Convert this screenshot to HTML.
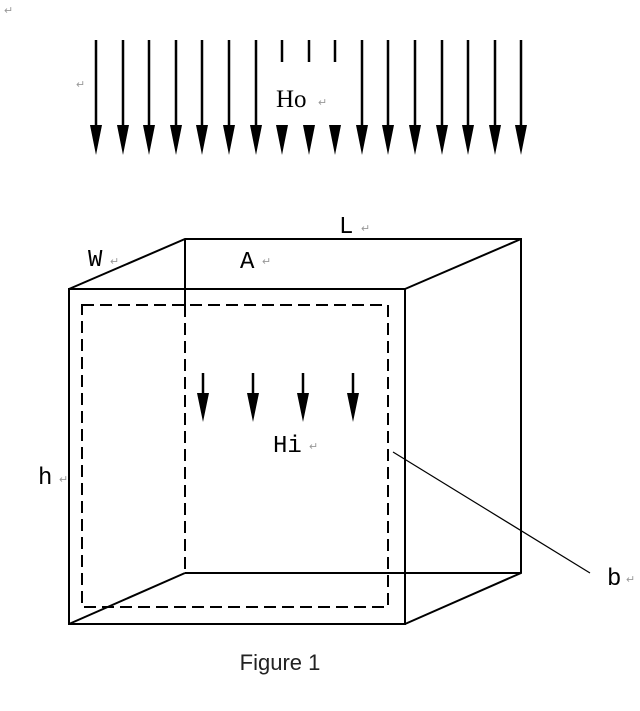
<!DOCTYPE html>
<html><head><style>body{margin:0;background:#fff;width:640px;height:706px;overflow:hidden}</style></head><body>
<svg width="640" height="706" xmlns="http://www.w3.org/2000/svg">
<defs><marker id="a" viewBox="0 0 12 30" refX="6" refY="30" markerWidth="12" markerHeight="30" markerUnits="userSpaceOnUse" orient="auto-start-reverse"></marker></defs>
<g font-family="Liberation Serif, serif" fill="#999" font-size="11">
<text x="4" y="14">↵</text><text x="76" y="88">↵</text>
</g>
<g stroke="#000" stroke-width="2.5">
<line x1="96" y1="40" x2="96" y2="128"/><line x1="123" y1="40" x2="123" y2="128"/><line x1="149" y1="40" x2="149" y2="128"/><line x1="176" y1="40" x2="176" y2="128"/><line x1="202" y1="40" x2="202" y2="128"/><line x1="229" y1="40" x2="229" y2="128"/><line x1="256" y1="40" x2="256" y2="128"/>
<line x1="282" y1="40" x2="282" y2="62"/><line x1="309" y1="40" x2="309" y2="62"/><line x1="335" y1="40" x2="335" y2="62"/>
<line x1="362" y1="40" x2="362" y2="128"/><line x1="388" y1="40" x2="388" y2="128"/><line x1="415" y1="40" x2="415" y2="128"/><line x1="442" y1="40" x2="442" y2="128"/><line x1="468" y1="40" x2="468" y2="128"/><line x1="495" y1="40" x2="495" y2="128"/><line x1="521" y1="40" x2="521" y2="128"/>
</g>
<g fill="#000">
<path d="M90 125h12l-6 30z"/><path d="M117 125h12l-6 30z"/><path d="M143 125h12l-6 30z"/><path d="M170 125h12l-6 30z"/><path d="M196 125h12l-6 30z"/><path d="M223 125h12l-6 30z"/><path d="M250 125h12l-6 30z"/><path d="M276 125h12l-6 30z"/><path d="M303 125h12l-6 30z"/><path d="M329 125h12l-6 30z"/><path d="M356 125h12l-6 30z"/><path d="M382 125h12l-6 30z"/><path d="M409 125h12l-6 30z"/><path d="M436 125h12l-6 30z"/><path d="M462 125h12l-6 30z"/><path d="M489 125h12l-6 30z"/><path d="M515 125h12l-6 30z"/>
</g>
<text x="276" y="107" font-family="Liberation Serif, serif" font-size="25">Ho</text><text x="318" y="106" font-size="11" fill="#999">↵</text>
<g stroke="#000" stroke-width="2" fill="none">
<rect x="69" y="289" width="336" height="335"/>
<polyline points="69,289 185,239 521,239 521,573 405,624"/>
<line x1="405" y1="289" x2="521" y2="239"/>
<line x1="185" y1="239" x2="185" y2="305"/>
<line x1="185" y1="573" x2="521" y2="573"/>
<line x1="69" y1="624" x2="185" y2="573"/>
<g stroke-dasharray="12,6"><rect x="82" y="305" width="306" height="302"/><line x1="185" y1="305" x2="185" y2="573"/></g>
<line x1="393" y1="452" x2="590" y2="573" stroke-width="1.2"/>
</g>
<g stroke="#000" stroke-width="2.5"><line x1="203" y1="373" x2="203" y2="396"/><line x1="253" y1="373" x2="253" y2="396"/><line x1="303" y1="373" x2="303" y2="396"/><line x1="353" y1="373" x2="353" y2="396"/></g>
<g fill="#000"><path d="M197 393h12l-6 29z"/><path d="M247 393h12l-6 29z"/><path d="M297 393h12l-6 29z"/><path d="M347 393h12l-6 29z"/></g>
<g font-family="Liberation Mono, monospace" font-size="24" fill="#000">
<text x="339" y="233">L</text><text x="88" y="266">W</text><text x="240" y="268">A</text><text x="273" y="452">Hi</text><text x="38" y="484">h</text><text x="607" y="585">b</text>
</g>
<g font-size="11" fill="#999"><text x="361" y="232">↵</text><text x="110" y="265">↵</text><text x="262" y="265">↵</text><text x="309" y="450">↵</text><text x="59" y="483">↵</text><text x="626" y="583">↵</text></g>
<text x="280" y="670" text-anchor="middle" font-family="Liberation Sans, sans-serif" font-size="22" fill="#222">Figure 1</text>
</svg>
</body></html>
